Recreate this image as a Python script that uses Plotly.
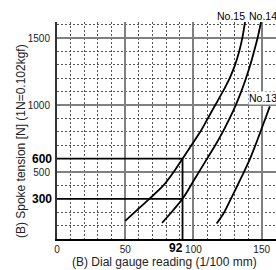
import plotly.graph_objects as go

# Data
no15_x = [50, 58, 67.7, 78, 85.5, 92, 98.5, 105, 110.5, 116, 121.5, 126.5, 130.5, 133.5, 135.8, 137.8]
no15_y = [135, 210, 300, 400, 500, 600, 700, 800, 900, 1000, 1100, 1200, 1300, 1400, 1500, 1620]

no14_x = [77, 92, 101, 110, 116, 121.5, 126.5, 131, 135, 138.5, 141.7, 144.4, 147, 149.5]
no14_y = [120, 300, 450, 600, 700, 800, 900, 1000, 1100, 1200, 1300, 1400, 1500, 1620]

no13_x = [117, 122, 127, 132, 137, 141.5, 145.4, 149.1, 152.7, 156]
no13_y = [115, 190, 290, 395, 500, 600, 700, 800, 900, 990]

x_tickvals = [0, 50, 100, 150]
x_ticktext = ["0", "50", "100", "150"]
y_tickvals = [500, 1000, 1500]
y_ticktext = ["500", "1000", "1500"]

ref_x = 92
ref_y_low = 300
ref_y_high = 600

FONT = "Liberation Sans, Arial, sans-serif"

fig = go.Figure()

# reference lines
fig.add_trace(go.Scatter(x=[0, ref_x], y=[ref_y_high, ref_y_high], mode="lines",
                         line=dict(color="black", width=1.8), hoverinfo="skip"))
fig.add_trace(go.Scatter(x=[0, ref_x], y=[ref_y_low, ref_y_low], mode="lines",
                         line=dict(color="black", width=1.8), hoverinfo="skip"))
fig.add_trace(go.Scatter(x=[ref_x, ref_x], y=[0, ref_y_high], mode="lines",
                         line=dict(color="black", width=1.8), hoverinfo="skip"))

for xs, ys in [(no15_x, no15_y), (no14_x, no14_y), (no13_x, no13_y)]:
    fig.add_trace(go.Scatter(x=xs, y=ys, mode="lines",
                             line=dict(color="black", width=1.8, shape="spline", smoothing=0.8),
                             hoverinfo="skip"))

fig.update_layout(
    width=276, height=270,
    margin=dict(l=57, r=0, t=22, b=31),
    paper_bgcolor="white", plot_bgcolor="white",
    showlegend=False,
    font=dict(family=FONT, color="#222", size=10),
)

fig.update_xaxes(
    range=[0, 160.5], tickvals=x_tickvals, ticktext=x_ticktext,
    showgrid=True, gridcolor="#808080", gridwidth=1.5,
    minor=dict(dtick=10, showgrid=True, gridcolor="#555", gridwidth=1, griddash="2px,2px"),
    showline=True, linecolor="black", linewidth=2,
    ticks="", ticklabelstandoff=0, tickfont=dict(size=10, color="#222"),
    zeroline=False, fixedrange=True,
)
fig.update_yaxes(
    range=[0, 1620], tickvals=y_tickvals, ticktext=y_ticktext,
    showgrid=True, gridcolor="#808080", gridwidth=1.5,
    minor=dict(dtick=100, showgrid=True, gridcolor="#555", gridwidth=1, griddash="2px,2px"),
    showline=True, linecolor="#333", linewidth=2,
    ticks="", ticklabelstandoff=3, tickfont=dict(size=10, color="#222"),
    zeroline=False, fixedrange=True,
)

ann = []
# bold tick labels
ann.append(dict(x=0, y=ref_y_high, xref="x", yref="y", text="<b>600</b>", showarrow=False,
                xanchor="right", yanchor="middle", xshift=-3, font=dict(size=12, color="black")))
ann.append(dict(x=0, y=ref_y_low, xref="x", yref="y", text="<b>300</b>", showarrow=False,
                xanchor="right", yanchor="middle", xshift=-3, font=dict(size=12, color="black")))
ann.append(dict(x=ref_x, y=0, xref="x", yref="y", text="<b>92</b>", showarrow=False,
                xanchor="right", yanchor="top", xshift=1, yshift=-1, borderpad=0,
                font=dict(size=12, color="black")))
# curve labels
ann.append(dict(x=127.2, y=1.028, xref="x", yref="paper", text="No.15", showarrow=False,
                xanchor="center", yanchor="middle", font=dict(size=10.5, color="black")))
ann.append(dict(x=150.7, y=1.028, xref="x", yref="paper", text="No.14", showarrow=False,
                xanchor="center", yanchor="middle", font=dict(size=10.5, color="black")))
ann.append(dict(x=151.1, y=1049, xref="x", yref="y", text="No.13", showarrow=False,
                xanchor="center", yanchor="middle", bgcolor="white", borderpad=0,
                font=dict(size=10.5, color="black")))
# axis titles
ann.append(dict(x=-0.164, y=0.4516, xref="paper", yref="paper",
                text="(B) Spoke tension [N] (1N=0.102kgf)", showarrow=False, textangle=-90,
                xanchor="center", yanchor="middle", font=dict(size=12, color="#222")))
ann.append(dict(x=0.4886, y=-0.1429, xref="paper", yref="paper",
                text="(B) Dial gauge reading (1/100 mm)", showarrow=False,
                xanchor="center", yanchor="bottom", borderpad=0, font=dict(size=12, color="#222")))
fig.update_layout(annotations=ann)

fig.write_html("out.html", config={"displayModeBar": False},
               post_script="document.body.style.margin='0';document.body.style.overflow='hidden';")
